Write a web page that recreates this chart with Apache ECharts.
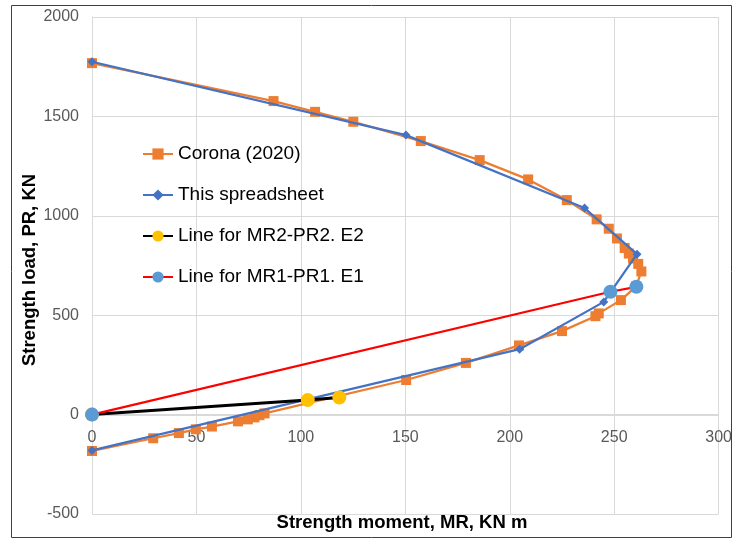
<!DOCTYPE html>
<html>
<head>
<meta charset="utf-8">
<script src="https://cdn.jsdelivr.net/npm/echarts@6/dist/echarts.min.js"></script>
<style>
html,body{margin:0;padding:0;background:#fff;}
#chart{width:735px;height:540px;}
</style>
</head>
<body>
<div id="chart"></div>
<script>
// Corona (2020): [MR, PR]
var coronaData = [
  [0,1768],[86.9,1577],[106.8,1523],[125.1,1473],[157.4,1376],[185.6,1280],
  [208.8,1183],[227.3,1079],[241.6,982],[247.4,935],[251.3,886],[255,838],
  [257,810],[259,785],[261.5,758],[263,720],[260.5,645],[253.2,576],
  [242.6,509],[241,495],[225,420],[204.4,348],[179,260],[150.4,174],
  [82.6,6],[80.2,-3],[77.8,-14],[74.6,-24],[69.9,-34],[57.4,-60],
  [49.7,-74],[41.6,-93],[29.3,-119],[0,-183]
];
// This spreadsheet
var spreadsheetData = [
  [0,1775],[150.3,1406],[235.8,1039],[260.9,807],[245,567],[204.7,329],[0,-180]
];
// Line for MR2-PR2. E2
var e2Data = [[0,0],[103.3,73],[118.4,86]];
// Line for MR1-PR1. E1
var e1Data = [[0,0],[248.2,618],[260.6,643]];

var seriesNames = ['Corona (2020)','This spreadsheet','Line for MR2-PR2. E2','Line for MR1-PR1. E1'];
var xTicks = {min:0, max:300, interval:50};
var yTicks = {min:-500, max:2000, interval:500};

var chart = echarts.init(document.getElementById('chart'));
var fontFam = 'Liberation Sans, Arial, sans-serif';
chart.setOption({
  animation:false,
  backgroundColor:'#fff',
  grid:{left:92, right:15, top:17, bottom:26, containLabel:false},
  xAxis:{
    type:'value', min:xTicks.min, max:xTicks.max, interval:xTicks.interval,
    axisLine:{show:true, onZero:false, lineStyle:{color:'#d9d9d9', width:1}},
    axisTick:{show:false},
    axisLabel:{color:'#595959', fontSize:16, margin:14, fontFamily:fontFam,
      formatter:function(v){return String(v);}},
    splitLine:{show:true, lineStyle:{color:'#d9d9d9', width:1}}
  },
  yAxis:{
    type:'value', min:yTicks.min, max:yTicks.max, interval:yTicks.interval,
    axisLine:{show:true, onZero:false, lineStyle:{color:'#d9d9d9', width:1}},
    axisTick:{show:false},
    axisLabel:{color:'#595959', fontSize:16, margin:13, fontFamily:fontFam,
      formatter:function(v){return String(v);}},
    splitLine:{show:true, lineStyle:{color:'#d9d9d9', width:1}}
  },
  legend:{
    orient:'vertical', left:137, top:139,
    itemWidth:30, itemHeight:14, itemGap:21,
    textStyle:{color:'#000', fontSize:19, lineHeight:20, fontFamily:fontFam},
    data:seriesNames
  },
  graphic:[
    {type:'rect', shape:{x:11.5, y:5.5, width:720, height:532}, style:{fill:'none', stroke:'#404040', lineWidth:1}, silent:true, z:-1},
    {type:'text', x:30, y:270, rotation:Math.PI/2, style:{text:'Strength load, PR, KN', font:'bold 18.5px '+fontFam, fill:'#000', textAlign:'center', textVerticalAlign:'middle'}},
    {type:'text', x:402, y:523, style:{text:'Strength moment, MR, KN m', font:'bold 18.5px '+fontFam, fill:'#000', textAlign:'center', textVerticalAlign:'middle'}}
  ],
  series:[
    {name:seriesNames[0], type:'line', data:coronaData, symbol:'rect', symbolSize:10,
     lineStyle:{color:'#ED7D31', width:2.25}, itemStyle:{color:'#ED7D31'}, z:2},
    {name:seriesNames[1], type:'line', data:spreadsheetData, symbol:'diamond', symbolSize:9,
     lineStyle:{color:'#4472C4', width:2.25}, itemStyle:{color:'#4472C4'}, z:3},
    {name:seriesNames[2], type:'line', data:e2Data, symbol:'circle', symbolSize:14,
     lineStyle:{color:'#000000', width:3}, itemStyle:{color:'#FFC000'}, z:4},
    {name:seriesNames[3], type:'line', data:e1Data, symbol:'circle', symbolSize:14,
     lineStyle:{color:'#FF0000', width:2.25}, itemStyle:{color:'#5B9BD5'}, z:5}
  ]
});
// Move the x axis (line + labels) to cross the y axis at 0, as in the reference
var pZero = chart.convertToPixel({gridIndex:0}, [0, 0]);
var pBottom = chart.convertToPixel({gridIndex:0}, [0, yTicks.min]);
chart.setOption({xAxis:{offset: -(pBottom[1] - pZero[1])}});
</script>
</body>
</html>
